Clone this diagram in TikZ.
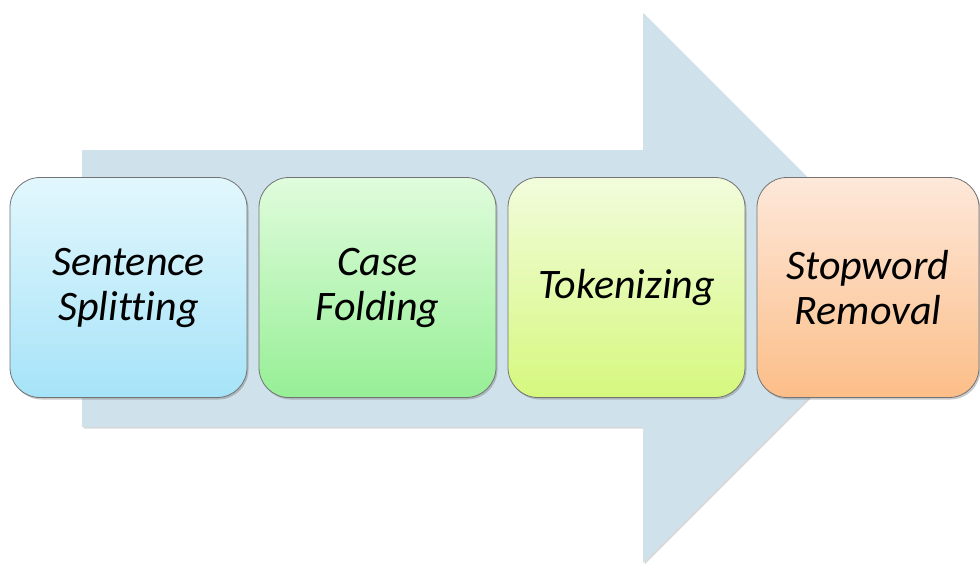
\documentclass[tikz,border=0pt]{standalone}
\usepackage{fontspec}
\setmainfont[Ligatures={NoCommon,TeX}]{Carlito}
\usetikzlibrary{shadows}
\begin{document}
\begin{tikzpicture}[x=1pt,y=-1pt,
  stagebox/.style={draw=black!55, line width=0.8pt, rounded corners=30pt,
    minimum width=237pt, minimum height=220pt, inner sep=0pt, align=center,
    font=\fontsize{42}{45}\selectfont\itshape,
    drop shadow={shadow xshift=1.5pt, shadow yshift=-2pt, opacity=0.35, fill=black!60}},
  bigarrow/.style={fill=arrowblue, draw=none,
    drop shadow={shadow xshift=1.5pt, shadow yshift=-1.5pt, opacity=0.3, fill=black!50}}
]
\definecolor{arrowblue}{HTML}{CFE1EA}
\definecolor{b1top}{HTML}{E2F7FD}\definecolor{b1bot}{HTML}{A6E3F8}
\definecolor{b2top}{HTML}{E0FCDC}\definecolor{b2bot}{HTML}{96EF96}
\definecolor{b3top}{HTML}{F2FCDC}\definecolor{b3bot}{HTML}{D6F87E}
\definecolor{b4top}{HTML}{FDE8DA}\definecolor{b4bot}{HTML}{FCBE88}
\useasboundingbox (0,0) rectangle (980,563);
\fill[white] (0,0) rectangle (980,563);
\path[bigarrow] (82,150) -- (643,150) -- (643,13) -- (918,288) -- (643,563)
  -- (643,427) -- (82,427) -- cycle;
\node[stagebox, top color=b1top, bottom color=b1bot] (s1) at (128.5,287.5) {Sentence\\Splitting};
\node[stagebox, top color=b2top, bottom color=b2bot] (s2) at (377.5,287.5) {Case\\Folding};
\node[stagebox, top color=b3top, bottom color=b3bot] (s3) at (626.5,287.5) {Tokenizing};
\node[stagebox, minimum width=222pt, top color=b4top, bottom color=b4bot] (s4) at (868,287.5) {Stopword\\Removal};
\end{tikzpicture}
\end{document}
